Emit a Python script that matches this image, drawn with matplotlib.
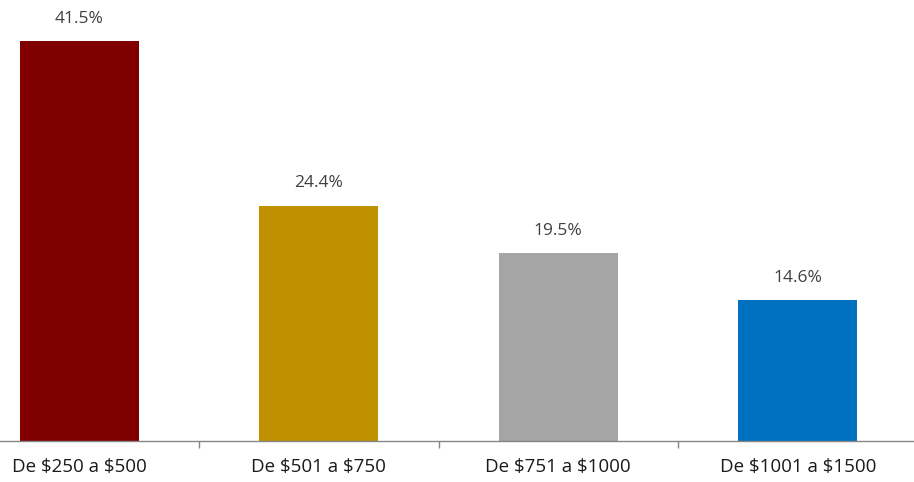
import matplotlib.pyplot as plt
import numpy as np

plt.rcParams['text.parse_math'] = False

categories = ['De $250 a $500', 'De $501 a $750', 'De $751 a $1000', 'De $1001 a $1500']
values = [41.5, 24.4, 19.5, 14.6]
colors = ['#800000', '#BF9000', '#A5A5A5', '#0070C0']

fig = plt.figure(figsize=(9.14, 4.82), dpi=100)
# axes is cropped a little on the left, like the source picture
ax = fig.add_axes([-40.5 / 914, 41 / 482, 958 / 914, 441 / 482])

x = np.arange(len(categories))
ax.bar(x, values, width=0.495, color=colors, zorder=2)

for xi, v in zip(x, values):
    ax.text(xi, v + 1.5, f'{v}%', ha='center', va='bottom', fontsize=12.5,
            color='#404040', family='Open Sans')

ax.set_xlim(-0.5, len(categories) - 0.5)
ax.set_ylim(0, 45.75)

for s in ['top', 'right', 'left']:
    ax.spines[s].set_visible(False)
ax.spines['bottom'].set_color('#868686')
ax.spines['bottom'].set_linewidth(1)
ax.set_yticks([])

ax.set_xticks(x)
ax.set_xticklabels(categories, fontsize=13.5, color='#1a1a1a', family='Open Sans')
ax.tick_params(axis='x', which='major', length=0, pad=12)
ax.set_xticks(x[:-1] + 0.5, minor=True)
ax.tick_params(axis='x', which='minor', length=5, color='#868686', width=1)

fig.savefig('out.png', dpi=100)
